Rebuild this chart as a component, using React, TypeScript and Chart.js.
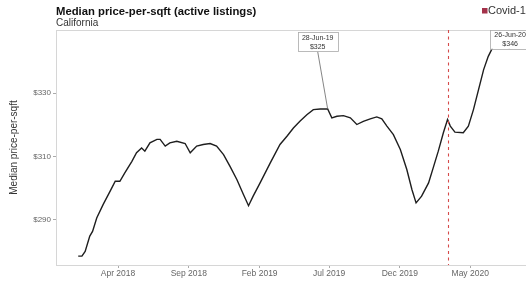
import React, { useEffect, useRef } from "react";
import { Chart, registerables } from "chart.js";

Chart.register(...registerables);

const dates = ['2018-01-05','2018-01-13','2018-01-20','2018-01-30','2018-02-05','2018-02-14','2018-02-28','2018-03-15','2018-03-26','2018-04-05',
  '2018-04-16','2018-05-01','2018-05-11','2018-05-22','2018-05-29','2018-06-09','2018-06-24','2018-07-01','2018-07-12','2018-07-22',
  '2018-08-06','2018-08-24','2018-09-04','2018-09-18','2018-10-02','2018-10-17','2018-10-31','2018-11-15','2018-11-29','2018-12-14',
  '2018-12-28','2019-01-08','2019-01-18','2019-02-02','2019-02-24','2019-03-17','2019-04-01','2019-04-15','2019-04-29','2019-05-14',
  '2019-05-28','2019-06-12','2019-06-28','2019-07-07','2019-07-18','2019-08-01','2019-08-16','2019-08-30','2019-09-13','2019-09-28',
  '2019-10-12','2019-10-23','2019-11-03','2019-11-17','2019-12-02','2019-12-16','2019-12-27','2020-01-05','2020-01-17','2020-02-01',
  '2020-02-12','2020-02-22','2020-03-04','2020-03-13','2020-03-19','2020-03-29','2020-04-16','2020-04-27','2020-05-08','2020-05-19',
  '2020-05-30','2020-06-09','2020-06-20','2020-06-26'];

const prices = [278.6,278.6,280.1,284.9,286.4,290.6,294.9,299.1,302.2,302.2,
  304.9,308.5,311.2,312.7,311.7,314.3,315.4,315.4,313.3,314.3,
  314.8,314.1,311.2,313.3,313.8,314.1,313.3,310.6,306.9,302.7,
  298,294.5,297.5,301.7,308,313.8,316.4,319,321.1,323.2,
  324.8,325,325,322.2,322.7,322.9,322.2,320.1,321.1,321.9,
  322.5,321.9,319.6,316.9,312.2,305.9,299.6,295.4,297.5,301.7,
  306.9,311.7,317.5,321.7,319.6,317.7,317.5,319.6,324.8,331.1,
  337.4,341.6,344.8,346];

const xTickDates = ['2018-04-01','2018-09-01','2019-02-01','2019-07-01','2019-12-01','2020-05-01'];
const xTickLabels = ['Apr 2018','Sep 2018','Feb 2019','Jul 2019','Dec 2019','May 2020'];
const yTicks = [290, 310, 330];

const covidDate = '2020-03-14';
const covidLabel = 'Covid-19';

const annotationDates = ['2019-06-28','2020-06-26'];
const annotationLabels = ['28-Jun-19','26-Jun-20'];
const annotationValues = [325, 346];

const xMinDate = '2017-11-18';
const xMaxDate = '2020-11-11';
const yMin = 275.8;
const yMax = 349.9;

const dayNum = (s: string) => Date.parse(s + 'T00:00:00Z') / 86400000;

const FONT = '"Liberation Sans", Arial, Helvetica, sans-serif';

export default function App() {
  const ref = useRef<HTMLCanvasElement>(null);
  useEffect(() => {
    const canvas = ref.current!;
    const overlay = {
      id: 'overlay',
      beforeDatasetsDraw(chart: any) {
        const { ctx, chartArea: a } = chart;
        ctx.save();
        ctx.strokeStyle = '#d6d6d6';
        ctx.lineWidth = 1;
        ctx.strokeRect(a.left + 0.5, a.top + 0.5, a.right - a.left, a.bottom - a.top);
        ctx.restore();
      },
      afterDatasetsDraw(chart: any) {
        const { ctx, chartArea: a, scales } = chart;
        const xs = scales.x, ys = scales.y;
        ctx.save();
        // covid line
        const cx = Math.round(xs.getPixelForValue(dayNum(covidDate))) + 0.5;
        ctx.strokeStyle = '#d64a4a';
        ctx.lineWidth = 1.1;
        ctx.setLineDash([3, 3.5]);
        ctx.beginPath();
        ctx.moveTo(cx, a.top);
        ctx.lineTo(cx, a.bottom);
        ctx.stroke();
        ctx.setLineDash([]);

        // annotations
        const offs = [[-10, -67], [14, -3]];
        annotationDates.forEach((d, i) => {
          const px = xs.getPixelForValue(dayNum(d));
          const py = ys.getPixelForValue(annotationValues[i]);
          const bx = px + offs[i][0];
          const by = py + offs[i][1];
          const w = 40, h = 19;
          ctx.strokeStyle = '#666';
          ctx.lineWidth = 0.8;
          ctx.beginPath();
          ctx.moveTo(px, py);
          ctx.lineTo(bx, by + h / 2);
          ctx.stroke();
          ctx.fillStyle = '#fff';
          ctx.fillRect(bx - w / 2, by - h / 2, w, h);
          ctx.strokeStyle = '#aaa';
          ctx.strokeRect(Math.round(bx - w / 2) + 0.5, Math.round(by - h / 2) + 0.5, w, h);
          ctx.fillStyle = '#333';
          ctx.font = `7px ${FONT}`;
          ctx.textAlign = 'center';
          ctx.textBaseline = 'middle';
          ctx.fillText(annotationLabels[i], bx, by - 4);
          ctx.fillText('$' + Math.round(annotationValues[i]), bx, by + 5);
        });

        // title
        ctx.textAlign = 'left';
        ctx.textBaseline = 'alphabetic';
        ctx.fillStyle = '#111';
        ctx.font = `bold 11.3px ${FONT}`;
        ctx.fillText('Median price-per-sqft (active listings)', 56, 15);
        ctx.fillStyle = '#333';
        ctx.font = `10px ${FONT}`;
        ctx.fillText('California', 56, 26);

        // legend
        ctx.fillStyle = '#a3324a';
        ctx.fillRect(482, 8, 5.5, 5.5);
        ctx.fillStyle = '#333';
        ctx.font = `11px ${FONT}`;
        ctx.textBaseline = 'middle';
        ctx.fillText(covidLabel, 488, 11);
        ctx.restore();
      },
    };

    const chart = new Chart(canvas, {
      type: 'line',
      data: {
        datasets: [{
          data: dates.map((d, i) => ({ x: dayNum(d), y: prices[i] })),
          borderColor: '#1e1e1e',
          borderWidth: 1.4,
          pointRadius: 0,
          tension: 0,
          fill: false,
        }],
      },
      options: {
        responsive: false,
        animation: false,
        layout: { padding: { top: 30, left: 0, right: 0, bottom: 0 } },
        plugins: { legend: { display: false }, tooltip: { enabled: false }, title: { display: false } },
        scales: {
          x: {
            type: 'linear',
            min: dayNum(xMinDate),
            max: dayNum(xMaxDate),
            afterFit: (s: any) => { s.height = 16; },
            afterBuildTicks: (s: any) => { s.ticks = xTickDates.map((d) => ({ value: dayNum(d) })); },
            ticks: {
              autoSkip: false,
              maxRotation: 0,
              padding: 1,
              color: '#666',
              font: { family: FONT, size: 8.5 },
              callback: (_v: any, i: number) => xTickLabels[i],
            },
            grid: { drawOnChartArea: false, drawTicks: true, tickLength: 3, color: '#aaa' },
            border: { display: false },
          },
          y: {
            type: 'linear',
            min: yMin,
            max: yMax,
            afterFit: (s: any) => { s.width = 56; },
            afterBuildTicks: (s: any) => { s.ticks = yTicks.map((v) => ({ value: v })); },
            ticks: {
              padding: 2,
              color: '#666',
              font: { family: FONT, size: 8 },
              callback: (v: any) => '$' + v,
            },
            grid: { drawOnChartArea: false, drawTicks: true, tickLength: 3, color: '#aaa' },
            border: { display: false },
            title: {
              display: true,
              text: 'Median price-per-sqft',
              color: '#333',
              font: { family: FONT, size: 10 },
              padding: { top: 8, bottom: 0 },
            },
          },
        },
      },
      plugins: [overlay],
    });
    return () => chart.destroy();
  }, []);

  return (
    <div style={{ position: 'fixed', left: 0, top: 0, width: 526, height: 281, overflow: 'hidden', background: '#fff' }}>
      <canvas ref={ref} width={560} height={281} style={{ width: 560, height: 281, display: 'block' }} />
    </div>
  );
}
